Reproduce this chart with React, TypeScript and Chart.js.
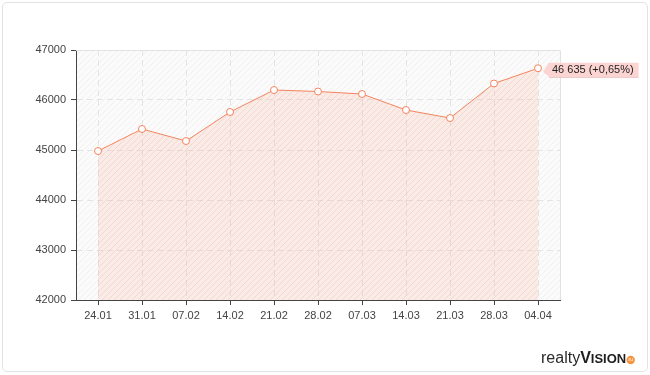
import { useEffect, useRef } from 'react';
import { Chart, registerables } from 'chart.js';

Chart.register(...registerables);

const categories = ['24.01', '31.01', '07.02', '14.02', '21.02', '28.02', '07.03', '14.03', '21.03', '28.03', '04.04'];
const values = [44980, 45420, 45180, 45760, 46200, 46170, 46120, 45800, 45640, 46330, 46635];
const yMin = 42000;
const yMax = 47000;
const yStep = 1000;
const lastLabel = '46 635 (+0,65%)';
const logoParts = ['realty', 'V', 'ISION', 'ru'];

const LINE = '#f5845e';

function makePattern(base: string, line: string, size: number): CanvasPattern | string {
  const c = document.createElement('canvas');
  c.width = size;
  c.height = size;
  const g = c.getContext('2d');
  if (!g) return base;
  g.fillStyle = base;
  g.fillRect(0, 0, size, size);
  g.strokeStyle = line;
  g.lineWidth = 1;
  g.beginPath();
  g.moveTo(0, size);
  g.lineTo(size, 0);
  g.moveTo(-1, 1);
  g.lineTo(1, -1);
  g.moveTo(size - 1, size + 1);
  g.lineTo(size + 1, size - 1);
  g.stroke();
  const p = g.createPattern(c, 'repeat');
  return p || base;
}

export default function App() {
  const ref = useRef<HTMLCanvasElement | null>(null);

  useEffect(() => {
    if (!ref.current) return;
    const bgPattern = makePattern('#fbfbfb', '#f0f0f0', 6);
    const fillPattern = makePattern('rgba(246,178,156,0.22)', 'rgba(235,150,125,0.12)', 6);

    const bgPlugin = {
      id: 'bgPlugin',
      beforeDraw(chart: any) {
        const { ctx, chartArea } = chart;
        ctx.save();
        ctx.fillStyle = bgPattern as any;
        ctx.fillRect(chartArea.left, chartArea.top, chartArea.right - chartArea.left, chartArea.bottom - chartArea.top);
        ctx.restore();
      },
      afterDatasetsDraw(chart: any) {
        const { ctx, chartArea } = chart;
        ctx.save();
        ctx.strokeStyle = '#e2e2e2';
        ctx.lineWidth = 1;
        ctx.beginPath();
        ctx.moveTo(chartArea.left, Math.round(chartArea.top) + 0.5);
        ctx.lineTo(Math.round(chartArea.right) + 0.5, Math.round(chartArea.top) + 0.5);
        ctx.lineTo(Math.round(chartArea.right) + 0.5, chartArea.bottom);
        ctx.stroke();
        ctx.restore();
      },
    };

    const tagPlugin = {
      id: 'tagPlugin',
      afterDatasetsDraw(chart: any) {
        const meta = chart.getDatasetMeta(0);
        const pt = meta.data[meta.data.length - 1];
        if (!pt) return;
        const { ctx } = chart;
        ctx.save();
        ctx.font = '11px "Liberation Sans"';
        const w = ctx.measureText(lastLabel).width;
        const x0 = pt.x + 11;
        const cy = pt.y + 1.5;
        const h = 14;
        const x1 = x0 + w + 8;
        ctx.fillStyle = '#fcd5d3';
        ctx.beginPath();
        ctx.moveTo(pt.x + 5, cy + 2);
        ctx.lineTo(x0, cy - h / 2);
        ctx.lineTo(x1, cy - h / 2);
        ctx.lineTo(x1, cy + h / 2);
        ctx.lineTo(x0, cy + h / 2);
        ctx.closePath();
        ctx.fill();
        ctx.fillStyle = '#e9b9b6';
        ctx.fillRect(x0, cy + h / 2, x1 - x0, 1);
        ctx.fillStyle = '#222';
        ctx.textBaseline = 'middle';
        ctx.textAlign = 'left';
        ctx.fillText(lastLabel, x0 + 3, cy);
        ctx.restore();
      },
    };

    const logoPlugin = {
      id: 'logoPlugin',
      afterDraw(chart: any) {
        const { ctx } = chart;
        ctx.save();
        ctx.textBaseline = 'alphabetic';
        ctx.textAlign = 'left';
        let x = 541;
        const base = 363;
        ctx.fillStyle = '#2a2a2a';
        ctx.font = '16px "Liberation Sans"';
        ctx.fillText(logoParts[0], x, base);
        x += ctx.measureText(logoParts[0]).width;
        ctx.fillStyle = '#1e1e1e';
        ctx.font = 'bold 16px "Liberation Sans"';
        ctx.fillText(logoParts[1], x, base);
        x += ctx.measureText(logoParts[1]).width;
        ctx.font = 'bold 13px "Liberation Sans"';
        ctx.fillText(logoParts[2], x, base);
        x += ctx.measureText(logoParts[2]).width;
        ctx.fillStyle = '#f7933a';
        ctx.beginPath();
        ctx.arc(x + 4.5, base - 3, 4.2, 0, Math.PI * 2);
        ctx.fill();
        ctx.fillStyle = '#fff';
        ctx.font = '5px "Liberation Sans"';
        ctx.textAlign = 'center';
        ctx.textBaseline = 'middle';
        ctx.fillText(logoParts[3], x + 4.5, base - 3);
        ctx.restore();
      },
    };

    const chart = new Chart(ref.current, {
      type: 'line',
      data: {
        labels: categories,
        datasets: [
          {
            data: values,
            borderColor: LINE,
            borderWidth: 1,
            backgroundColor: fillPattern as any,
            fill: 'start',
            tension: 0,
            pointRadius: 3.5,
            pointBackgroundColor: '#fff',
            pointBorderColor: LINE,
            pointBorderWidth: 1,
          },
        ],
      },
      options: {
        responsive: false,
        animation: false,
        devicePixelRatio: 1,
        layout: { padding: { top: 50, right: 90, left: 0, bottom: 0 } },
        plugins: {
          legend: { display: false },
          tooltip: { enabled: false },
        },
        scales: {
          x: {
            offset: true,
            grid: {
              offset: false,
              color: '#e4e4e4',
              tickColor: '#444',
              tickLength: 5,
              tickBorderDash: [],
            } as any,
            border: { display: true, color: '#444', width: 1, dash: [6, 4] },
            ticks: {
              color: '#444',
              padding: 4,
              font: { family: '"Liberation Sans"', size: 11 },
              maxRotation: 0,
              autoSkip: false,
            },
            afterFit(scale: any) {
              scale.height = 75;
            },
          },
          y: {
            min: yMin,
            max: yMax,
            grid: {
              color: '#e4e4e4',
              tickColor: '#444',
              tickLength: 5,
              tickBorderDash: [],
            } as any,
            border: { display: true, color: '#444', width: 1, dash: [6, 4] },
            ticks: {
              stepSize: yStep,
              color: '#444',
              padding: 5,
              font: { family: '"Liberation Sans"', size: 11 },
              callback: (v: any) => String(v),
            },
            afterFit(scale: any) {
              scale.width = 76;
            },
          },
        },
      },
      plugins: [bgPlugin, tagPlugin, logoPlugin],
    });
    return () => chart.destroy();
  }, []);

  return (
    <div style={{ position: 'absolute', left: 0, top: 0, width: 650, height: 375, background: '#fff' }}>
      <div
        style={{
          position: 'absolute',
          left: 2,
          top: 2,
          width: 644,
          height: 368,
          border: '1px solid #e3e3e3',
          borderRadius: 5,
        }}
      />
      <canvas ref={ref} width={650} height={375} style={{ position: 'absolute', left: 0, top: 0 }} />
    </div>
  );
}
